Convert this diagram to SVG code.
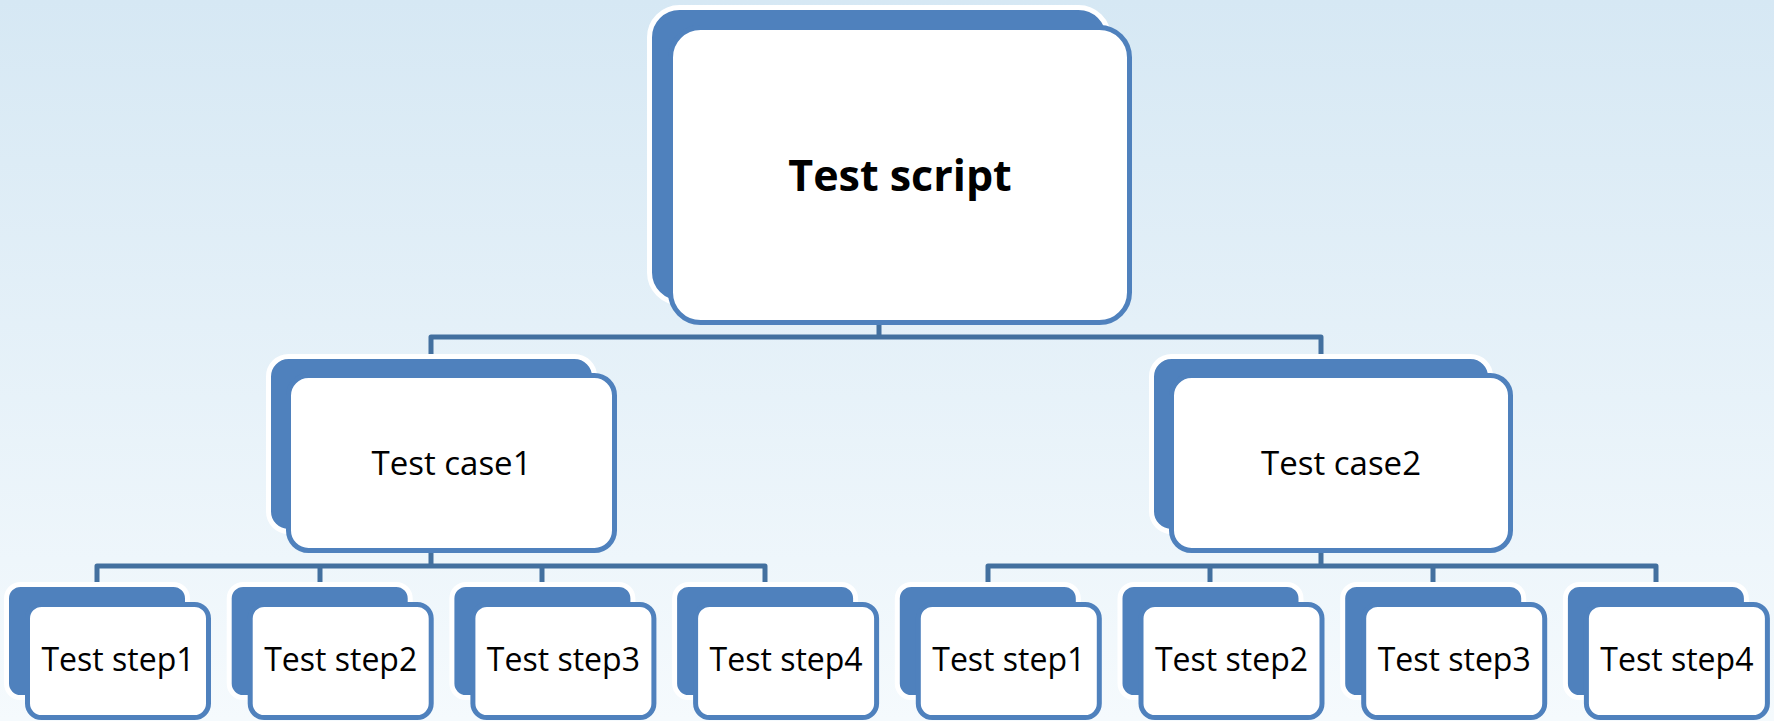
<svg xmlns="http://www.w3.org/2000/svg" width="1774" height="721" viewBox="0 0 1774 721">
  <defs>
    <linearGradient id="bg" x1="0" y1="0" x2="0" y2="1">
      <stop offset="0" stop-color="#D6E8F4"/>
      <stop offset="1" stop-color="#F5FAFD"/>
    </linearGradient>
    <style>
      .back { fill: #4F81BD; stroke: #FFFFFF; stroke-width: 5; }
      .front { fill: #FFFFFF; stroke: #4F81BD; stroke-width: 5; }
      .conn { fill: none; stroke: #43709F; stroke-width: 5; stroke-linejoin: round; }
      .lbl { font-family: "Open Sans", "Liberation Sans", sans-serif; fill: #000000; text-anchor: middle; }
      .title { font-size: 43px; font-weight: bold; }
      .case { font-size: 33px; }
      .step { font-size: 32px; }
    </style>
  </defs>

  <rect x="0" y="0" width="1774" height="721" fill="url(#bg)"/>

  <!-- connectors -->
  <g id="connectors">
    <path class="conn" d="M879 325 V337 M431 357 V337 H1321 V357"/>
    <path class="conn" d="M431 553 V566 M97 585 V566 H765 V585 M320 566 V585 M542 566 V585"/>
    <path class="conn" d="M1321 553 V566 M988 585 V566 H1656 V585 M1210 566 V585 M1433 566 V585"/>
  </g>

  <!-- root -->
  <g id="node-script">
    <rect class="back" x="649.5" y="7.5" width="459" height="295" rx="30"/>
    <rect class="front" x="670.5" y="27.5" width="459" height="295" rx="30"/>
    <text class="lbl title" x="900" y="191">Test script</text>
  </g>

  <!-- test cases -->
  <g id="node-case1">
    <rect class="back" x="268.5" y="356.5" width="326" height="175" rx="20"/>
    <rect class="front" x="288.5" y="375.5" width="326" height="175" rx="20"/>
    <text class="lbl case" x="451.5" y="475">Test case1</text>
  </g>
  <g id="node-case2">
    <rect class="back" x="1151.5" y="356.5" width="339" height="175" rx="20"/>
    <rect class="front" x="1171.5" y="375.5" width="339" height="175" rx="20"/>
    <text class="lbl case" x="1341" y="475">Test case2</text>
  </g>

  <!-- test steps of case 1 -->
  <g id="node-c1-step1">
    <rect class="back" x="6.5" y="584.5" width="181" height="113" rx="14"/>
    <rect class="front" x="27.5" y="604.5" width="181" height="113" rx="14"/>
    <text class="lbl step" x="118" y="671">Test step1</text>
  </g>
  <g id="node-c1-step2">
    <rect class="back" x="229.2" y="584.5" width="181" height="113" rx="14"/>
    <rect class="front" x="250.2" y="604.5" width="181" height="113" rx="14"/>
    <text class="lbl step" x="340.7" y="671">Test step2</text>
  </g>
  <g id="node-c1-step3">
    <rect class="back" x="451.9" y="584.5" width="181" height="113" rx="14"/>
    <rect class="front" x="472.9" y="604.5" width="181" height="113" rx="14"/>
    <text class="lbl step" x="563.4" y="671">Test step3</text>
  </g>
  <g id="node-c1-step4">
    <rect class="back" x="674.6" y="584.5" width="181" height="113" rx="14"/>
    <rect class="front" x="695.6" y="604.5" width="181" height="113" rx="14"/>
    <text class="lbl step" x="786.1" y="671">Test step4</text>
  </g>

  <!-- test steps of case 2 -->
  <g id="node-c2-step1">
    <rect class="back" x="897.3" y="584.5" width="181" height="113" rx="14"/>
    <rect class="front" x="918.3" y="604.5" width="181" height="113" rx="14"/>
    <text class="lbl step" x="1008.8" y="671">Test step1</text>
  </g>
  <g id="node-c2-step2">
    <rect class="back" x="1120" y="584.5" width="181" height="113" rx="14"/>
    <rect class="front" x="1141" y="604.5" width="181" height="113" rx="14"/>
    <text class="lbl step" x="1231.5" y="671">Test step2</text>
  </g>
  <g id="node-c2-step3">
    <rect class="back" x="1342.7" y="584.5" width="181" height="113" rx="14"/>
    <rect class="front" x="1363.7" y="604.5" width="181" height="113" rx="14"/>
    <text class="lbl step" x="1454.2" y="671">Test step3</text>
  </g>
  <g id="node-c2-step4">
    <rect class="back" x="1565.4" y="584.5" width="181" height="113" rx="14"/>
    <rect class="front" x="1586.4" y="604.5" width="181" height="113" rx="14"/>
    <text class="lbl step" x="1676.9" y="671">Test step4</text>
  </g>
</svg>
